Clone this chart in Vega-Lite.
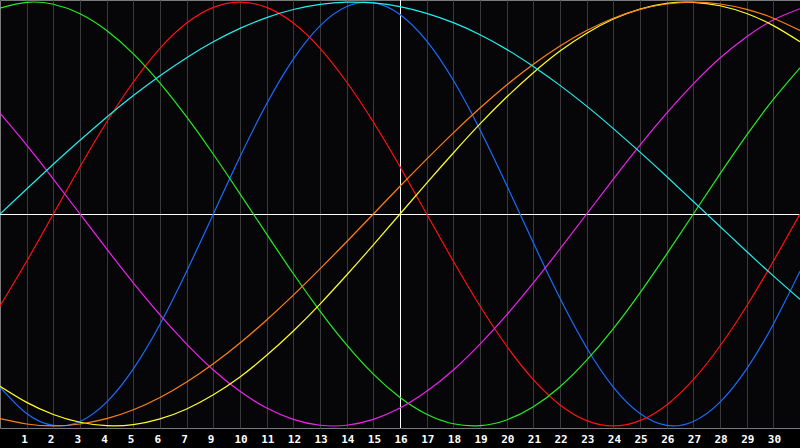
{
  "$schema": "https://vega.github.io/schema/vega-lite/v6.json",
  "width": 800,
  "height": 428,
  "autosize": {"type": "none"},
  "padding": {"left": 0, "top": 0, "right": 0, "bottom": 20},
  "background": "#000000",
  "config": {"view": {"fill": "#060609", "stroke": "#7a7a7a", "strokeWidth": 1}},
  "datasets": {
    "curves": [
      {"c":"blue","d":0,"v":-81.7},{"c":"blue","d":1,"v":-94.2},{"c":"blue","d":2,"v":-99.8},{"c":"blue","d":3,"v":-97.9},{"c":"blue","d":4,"v":-88.8},{"c":"blue","d":5,"v":-73.1},{"c":"blue","d":6,"v":-52.0},{"c":"blue","d":7,"v":-27.0},{"c":"blue","d":8,"v":0},{"c":"blue","d":9,"v":27.0},{"c":"blue","d":10,"v":52.0},{"c":"blue","d":11,"v":73.1},{"c":"blue","d":12,"v":88.8},{"c":"blue","d":13,"v":97.9},{"c":"blue","d":14,"v":99.8},{"c":"blue","d":15,"v":94.2},{"c":"blue","d":16,"v":81.7},{"c":"blue","d":17,"v":63.1},{"c":"blue","d":18,"v":39.8},{"c":"blue","d":19,"v":13.6},{"c":"blue","d":20,"v":-13.6},{"c":"blue","d":21,"v":-39.8},{"c":"blue","d":22,"v":-63.1},{"c":"blue","d":23,"v":-81.7},{"c":"blue","d":24,"v":-94.2},{"c":"blue","d":25,"v":-99.8},{"c":"blue","d":26,"v":-97.9},{"c":"blue","d":27,"v":-88.8},{"c":"blue","d":28,"v":-73.1},{"c":"blue","d":29,"v":-52.0},{"c":"blue","d":30,"v":-27.0},
      {"c":"red","d":0,"v":-43.4},{"c":"red","d":1,"v":-22.3},{"c":"red","d":2,"v":0},{"c":"red","d":3,"v":22.3},{"c":"red","d":4,"v":43.4},{"c":"red","d":5,"v":62.3},{"c":"red","d":6,"v":78.2},{"c":"red","d":7,"v":90.1},{"c":"red","d":8,"v":97.5},{"c":"red","d":9,"v":100},{"c":"red","d":10,"v":97.5},{"c":"red","d":11,"v":90.1},{"c":"red","d":12,"v":78.2},{"c":"red","d":13,"v":62.3},{"c":"red","d":14,"v":43.4},{"c":"red","d":15,"v":22.3},{"c":"red","d":16,"v":0},{"c":"red","d":17,"v":-22.3},{"c":"red","d":18,"v":-43.4},{"c":"red","d":19,"v":-62.3},{"c":"red","d":20,"v":-78.2},{"c":"red","d":21,"v":-90.1},{"c":"red","d":22,"v":-97.5},{"c":"red","d":23,"v":-100},{"c":"red","d":24,"v":-97.5},{"c":"red","d":25,"v":-90.1},{"c":"red","d":26,"v":-78.2},{"c":"red","d":27,"v":-62.3},{"c":"red","d":28,"v":-43.4},{"c":"red","d":29,"v":-22.3},{"c":"red","d":30,"v":0},
      {"c":"green","d":0,"v":97.2},{"c":"green","d":1,"v":99.9},{"c":"green","d":2,"v":99.0},{"c":"green","d":3,"v":94.5},{"c":"green","d":4,"v":86.6},{"c":"green","d":5,"v":75.6},{"c":"green","d":6,"v":61.8},{"c":"green","d":7,"v":45.8},{"c":"green","d":8,"v":28.2},{"c":"green","d":9,"v":9.5},{"c":"green","d":10,"v":-9.5},{"c":"green","d":11,"v":-28.2},{"c":"green","d":12,"v":-45.8},{"c":"green","d":13,"v":-61.8},{"c":"green","d":14,"v":-75.6},{"c":"green","d":15,"v":-86.6},{"c":"green","d":16,"v":-94.5},{"c":"green","d":17,"v":-99.0},{"c":"green","d":18,"v":-99.9},{"c":"green","d":19,"v":-97.2},{"c":"green","d":20,"v":-91.0},{"c":"green","d":21,"v":-81.5},{"c":"green","d":22,"v":-69.0},{"c":"green","d":23,"v":-54.1},{"c":"green","d":24,"v":-37.2},{"c":"green","d":25,"v":-18.9},{"c":"green","d":26,"v":0},{"c":"green","d":27,"v":18.9},{"c":"green","d":28,"v":37.2},{"c":"green","d":29,"v":54.1},{"c":"green","d":30,"v":69.0},
      {"c":"magenta","d":0,"v":47.6},{"c":"magenta","d":1,"v":32.5},{"c":"magenta","d":2,"v":16.5},{"c":"magenta","d":3,"v":0},{"c":"magenta","d":4,"v":-16.5},{"c":"magenta","d":5,"v":-32.5},{"c":"magenta","d":6,"v":-47.6},{"c":"magenta","d":7,"v":-61.4},{"c":"magenta","d":8,"v":-73.6},{"c":"magenta","d":9,"v":-83.7},{"c":"magenta","d":10,"v":-91.6},{"c":"magenta","d":11,"v":-96.9},{"c":"magenta","d":12,"v":-99.7},{"c":"magenta","d":13,"v":-99.7},{"c":"magenta","d":14,"v":-96.9},{"c":"magenta","d":15,"v":-91.6},{"c":"magenta","d":16,"v":-83.7},{"c":"magenta","d":17,"v":-73.6},{"c":"magenta","d":18,"v":-61.4},{"c":"magenta","d":19,"v":-47.6},{"c":"magenta","d":20,"v":-32.5},{"c":"magenta","d":21,"v":-16.5},{"c":"magenta","d":22,"v":0},{"c":"magenta","d":23,"v":16.5},{"c":"magenta","d":24,"v":32.5},{"c":"magenta","d":25,"v":47.6},{"c":"magenta","d":26,"v":61.4},{"c":"magenta","d":27,"v":73.6},{"c":"magenta","d":28,"v":83.7},{"c":"magenta","d":29,"v":91.6},{"c":"magenta","d":30,"v":96.9},
      {"c":"yellow","d":0,"v":-81.3},{"c":"yellow","d":1,"v":-88.9},{"c":"yellow","d":2,"v":-94.6},{"c":"yellow","d":3,"v":-98.3},{"c":"yellow","d":4,"v":-99.9},{"c":"yellow","d":5,"v":-99.4},{"c":"yellow","d":6,"v":-96.7},{"c":"yellow","d":7,"v":-92.0},{"c":"yellow","d":8,"v":-85.3},{"c":"yellow","d":9,"v":-76.9},{"c":"yellow","d":10,"v":-66.7},{"c":"yellow","d":11,"v":-55.2},{"c":"yellow","d":12,"v":-42.5},{"c":"yellow","d":13,"v":-28.8},{"c":"yellow","d":14,"v":-14.6},{"c":"yellow","d":15,"v":0},{"c":"yellow","d":16,"v":14.6},{"c":"yellow","d":17,"v":28.8},{"c":"yellow","d":18,"v":42.5},{"c":"yellow","d":19,"v":55.2},{"c":"yellow","d":20,"v":66.7},{"c":"yellow","d":21,"v":76.9},{"c":"yellow","d":22,"v":85.3},{"c":"yellow","d":23,"v":92.0},{"c":"yellow","d":24,"v":96.7},{"c":"yellow","d":25,"v":99.4},{"c":"yellow","d":26,"v":99.9},{"c":"yellow","d":27,"v":98.3},{"c":"yellow","d":28,"v":94.6},{"c":"yellow","d":29,"v":88.9},{"c":"yellow","d":30,"v":81.3},
      {"c":"orange","d":0,"v":-96.6},{"c":"orange","d":1,"v":-99.1},{"c":"orange","d":2,"v":-100},{"c":"orange","d":3,"v":-99.1},{"c":"orange","d":4,"v":-96.6},{"c":"orange","d":5,"v":-92.4},{"c":"orange","d":6,"v":-86.6},{"c":"orange","d":7,"v":-79.3},{"c":"orange","d":8,"v":-70.7},{"c":"orange","d":9,"v":-60.9},{"c":"orange","d":10,"v":-50.0},{"c":"orange","d":11,"v":-38.3},{"c":"orange","d":12,"v":-25.9},{"c":"orange","d":13,"v":-13.1},{"c":"orange","d":14,"v":0},{"c":"orange","d":15,"v":13.1},{"c":"orange","d":16,"v":25.9},{"c":"orange","d":17,"v":38.3},{"c":"orange","d":18,"v":50.0},{"c":"orange","d":19,"v":60.9},{"c":"orange","d":20,"v":70.7},{"c":"orange","d":21,"v":79.3},{"c":"orange","d":22,"v":86.6},{"c":"orange","d":23,"v":92.4},{"c":"orange","d":24,"v":96.6},{"c":"orange","d":25,"v":99.1},{"c":"orange","d":26,"v":100},{"c":"orange","d":27,"v":99.1},{"c":"orange","d":28,"v":96.6},{"c":"orange","d":29,"v":92.4},{"c":"orange","d":30,"v":86.6},
      {"c":"cyan","d":0,"v":0},{"c":"cyan","d":1,"v":11.8},{"c":"cyan","d":2,"v":23.5},{"c":"cyan","d":3,"v":34.8},{"c":"cyan","d":4,"v":45.7},{"c":"cyan","d":5,"v":55.9},{"c":"cyan","d":6,"v":65.3},{"c":"cyan","d":7,"v":73.8},{"c":"cyan","d":8,"v":81.3},{"c":"cyan","d":9,"v":87.6},{"c":"cyan","d":10,"v":92.7},{"c":"cyan","d":11,"v":96.5},{"c":"cyan","d":12,"v":98.9},{"c":"cyan","d":13,"v":100.0},{"c":"cyan","d":14,"v":99.6},{"c":"cyan","d":15,"v":97.9},{"c":"cyan","d":16,"v":94.7},{"c":"cyan","d":17,"v":90.3},{"c":"cyan","d":18,"v":84.6},{"c":"cyan","d":19,"v":77.7},{"c":"cyan","d":20,"v":69.6},{"c":"cyan","d":21,"v":60.7},{"c":"cyan","d":22,"v":50.9},{"c":"cyan","d":23,"v":40.3},{"c":"cyan","d":24,"v":29.2},{"c":"cyan","d":25,"v":17.7},{"c":"cyan","d":26,"v":5.9},{"c":"cyan","d":27,"v":-5.9},{"c":"cyan","d":28,"v":-17.7},{"c":"cyan","d":29,"v":-29.2},{"c":"cyan","d":30,"v":-40.3}
    ],
    "vline": [{"d": 15}],
    "hline": [{"v": 0}]
  },
  "layer": [
    {
      "data": {"name": "vline"},
      "mark": {"type": "rule", "color": "#ffffff", "strokeWidth": 1, "xOffset": 0.5},
      "encoding": {
        "x": {"field": "d", "type": "quantitative", "scale": {"domain": [0, 30], "nice": false, "zero": false},
          "axis": {"values": [1,2,3,4,5,6,7,8,9,10,11,12,13,14,15,16,17,18,19,20,21,22,23,24,25,26,27,28,29], "grid": true, "gridColor": "#3a3a3a", "gridWidth": 1, "domain": false, "ticks": false, "labelColor": "#ffffff", "labelFont": "DejaVu Sans Mono", "labelFontWeight": "bold", "labelFontSize": 11, "labelAlign": "left", "labelOffset": -6, "labelPadding": 5, "labelExpr": "datum.value < 8 ? datum.value : datum.value + 1", "labelOverlap": false, "labelBound": false, "labelFlush": false, "title": null}}
      }
    },
    {
      "data": {"name": "hline"},
      "mark": {"type": "rule", "color": "#ffffff", "strokeWidth": 1, "yOffset": 0.5},
      "encoding": {
        "y": {"field": "v", "type": "quantitative", "scale": {"domain": [-101, 101], "nice": false, "zero": false}, "axis": null}
      }
    },
    {
      "data": {"name": "curves"},
      "mark": {"type": "line", "interpolate": "natural", "strokeWidth": 1.2, "clip": true},
      "encoding": {
        "x": {"field": "d", "type": "quantitative", "scale": {"domain": [0, 30], "nice": false, "zero": false},
          "axis": {"values": [1,2,3,4,5,6,7,8,9,10,11,12,13,14,15,16,17,18,19,20,21,22,23,24,25,26,27,28,29], "grid": true, "gridColor": "#3a3a3a", "gridWidth": 1, "domain": false, "ticks": false, "labelColor": "#ffffff", "labelFont": "DejaVu Sans Mono", "labelFontWeight": "bold", "labelFontSize": 11, "labelAlign": "left", "labelOffset": -6, "labelPadding": 5, "labelExpr": "datum.value < 8 ? datum.value : datum.value + 1", "labelOverlap": false, "labelBound": false, "labelFlush": false, "title": null}},
        "y": {"field": "v", "type": "quantitative", "scale": {"domain": [-101, 101], "nice": false, "zero": false}, "axis": null},
        "color": {"field": "c", "type": "nominal", "legend": null,
          "scale": {"domain": ["blue", "red", "green", "magenta", "yellow", "orange", "cyan"],
                    "range": ["#1a6cff", "#ff1010", "#22ee22", "#ee22ee", "#ffff22", "#ff8010", "#22eeee"]}}
      }
    }
  ]
}
